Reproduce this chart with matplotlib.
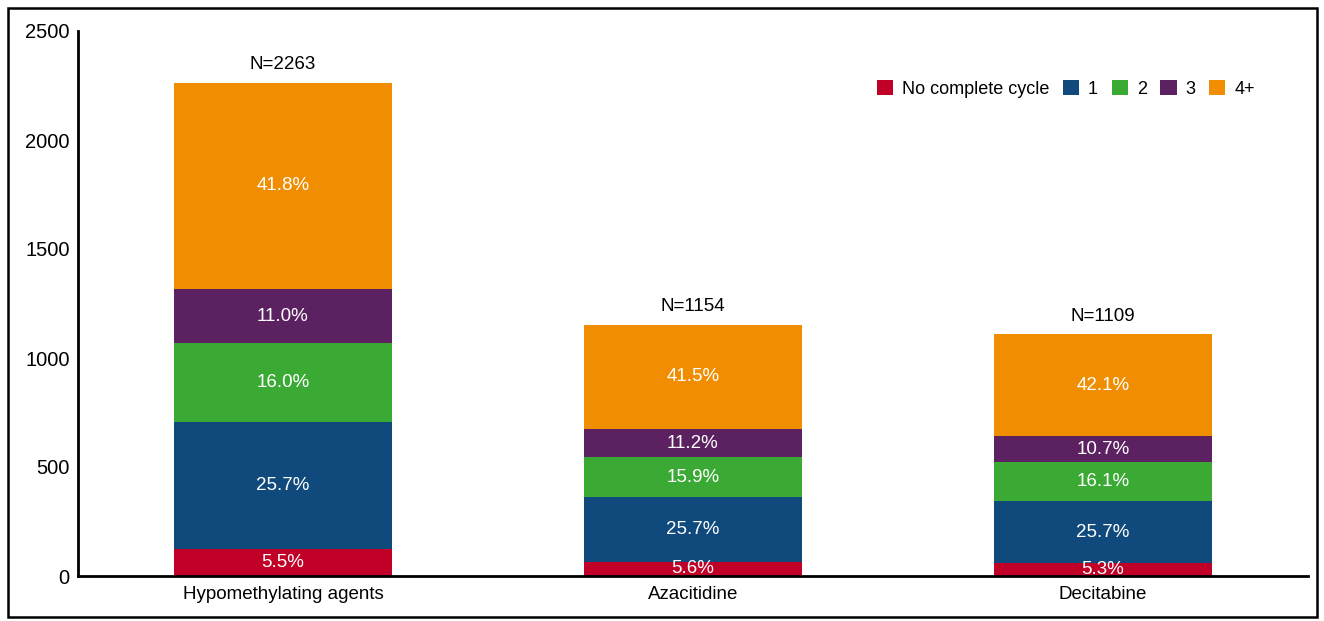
import numpy as np
import matplotlib
matplotlib.use("Agg")
import matplotlib.pyplot as plt
from matplotlib.patches import Rectangle

plt.rcParams['font.family'] = ['Liberation Sans', 'DejaVu Sans']

groups = ["Hypomethylating agents", "Azacitidine", "Decitabine"]
totals = [2263, 1154, 1109]
series = ["No complete cycle", "1", "2", "3", "4+"]
pct_none = [5.5, 5.6, 5.3]
pct_1 = [25.7, 25.7, 25.7]
pct_2 = [16.0, 15.9, 16.1]
pct_3 = [11.0, 11.2, 10.7]
pct_4 = [41.8, 41.5, 42.1]
colors = ["#C00026", "#10497C", "#3BAA35", "#5C2160", "#F18D00"]

pcts = [pct_none, pct_1, pct_2, pct_3, pct_4]

fig = plt.figure(figsize=(13.24, 6.21), dpi=100)
ax = fig.add_axes([78 / 1324, 1 - 576 / 621, (1308 - 78) / 1324, (576 - 31) / 621])

x = np.arange(len(groups))
width = 0.53
bottom = np.zeros(len(groups))
for name, pct, col in zip(series, pcts, colors):
    h = np.array(totals) * np.array(pct) / 100.0
    ax.bar(x, h, width, bottom=bottom, color=col, label=name)
    for xi, b, hi, p in zip(x, bottom, h, pct):
        ax.text(xi, b + hi / 2, f"{p:.1f}%", ha='center', va='center',
                color='white', fontsize=13.5)
    bottom = bottom + h

for xi, n in zip(x, totals):
    ax.annotate(f"N={n}", (xi, n), xytext=(0, 7), textcoords='offset points',
                ha='center', va='bottom', fontsize=13.5)

ax.set_xlim(-0.5, 2.5)
ax.set_ylim(0, 2500)
ax.set_yticks([0, 500, 1000, 1500, 2000, 2500])
ax.set_xticks(x)
ax.set_xticklabels(groups)
ax.tick_params(axis='x', length=0, labelsize=13.5, pad=7)
ax.tick_params(axis='y', length=0, labelsize=14.5, pad=6)
ax.spines['top'].set_visible(False)
ax.spines['right'].set_visible(False)
ax.spines['left'].set_linewidth(2)
ax.spines['bottom'].set_linewidth(2)

ax.legend(loc='center right', bbox_to_anchor=(1264 / 1324, 1 - 89 / 621),
          bbox_transform=fig.transFigure, ncol=5, frameon=False,
          handlelength=0.9, handleheight=0.9, handletextpad=0.5,
          columnspacing=0.75, borderpad=0, fontsize=13)

fig.patches.append(Rectangle((7.5 / 1324, 1 - 617 / 621), (1317 - 7.5) / 1324,
                             (617 - 7.5) / 621, transform=fig.transFigure,
                             fill=False, edgecolor='black', linewidth=1.8))

fig.savefig("out.png", dpi=100)
